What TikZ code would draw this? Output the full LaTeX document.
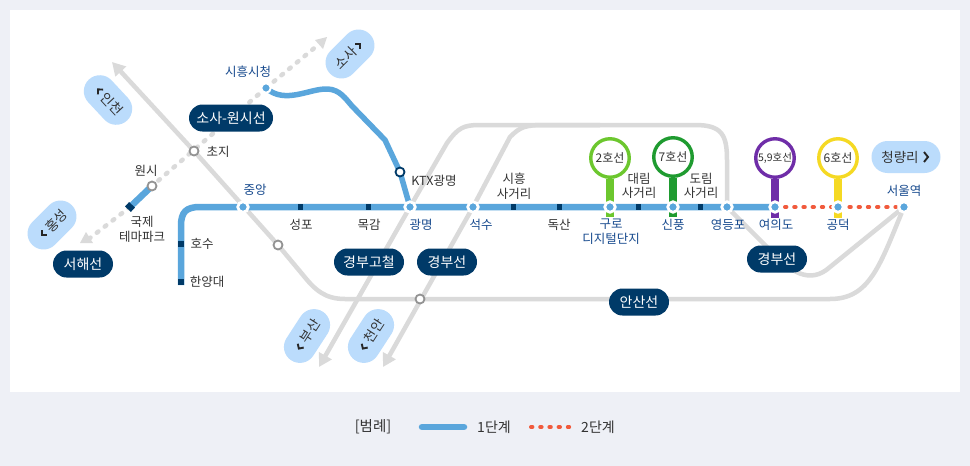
\documentclass[tikz,border=0pt]{standalone}
\usepackage{fontspec}
\setmainfont{Noto Sans CJK KR}
\usetikzlibrary{arrows.meta,shapes.misc,backgrounds}
\definecolor{bgc}{HTML}{EEF0F6}
\definecolor{lineb}{HTML}{5AA6DC}
\definecolor{navy}{HTML}{003A68}
\definecolor{lightb}{HTML}{BBDCFC}
\definecolor{grayl}{HTML}{DADADA}
\definecolor{labb}{HTML}{174A8E}
\definecolor{txt}{HTML}{333333}
\definecolor{redl}{HTML}{F15A3C}
\definecolor{lineii}{HTML}{6CC72E}
\definecolor{linevii}{HTML}{1F9B30}
\definecolor{linelix}{HTML}{6F2DA8}
\definecolor{linevi}{HTML}{F5D923}
\tikzset{
 gline/.style={draw=grayl,line width=4.5pt},
 gtip/.style={-{Triangle[length=13pt,width=14pt,fill=grayl]}},
 gdot/.style={draw=grayl,line width=4.5pt,line cap=round,dash pattern=on 2pt off 8pt},
 bline/.style={draw=lineb,line width=6.5pt},
 rline/.style={draw=redl,line width=4pt,line cap=round,dash pattern=on 1.4pt off 7.8pt},
 pill/.style={rounded rectangle,fill=navy,text=white,minimum height=27pt,inner xsep=0pt,inner ysep=0pt,font=\fontsize{14}{14}\selectfont},
 dest/.style={rounded rectangle,fill=lightb,text=txt,minimum height=32pt,minimum width=56pt,inner xsep=0pt,inner ysep=0pt,font=\fontsize{13.5}{14}\selectfont},
 chev/.style={draw=black!85,line width=1.9pt,line join=miter},
 stn/.style={circle,fill=lineb,draw=white,line width=2.8pt,minimum size=10.5pt,inner sep=0pt},
 ostn/.style={circle,fill=white,draw=gray!85,line width=1.8pt,minimum size=9pt,inner sep=0pt},
 kstn/.style={circle,fill=white,draw=navy,line width=1.8pt,minimum size=9pt,inner sep=0pt},
 tick/.style={rectangle,fill=navy,minimum width=5pt,minimum height=6.5pt,inner sep=0pt},
 vtick/.style={rectangle,fill=navy,minimum width=6.5pt,minimum height=6pt,inner sep=0pt},
 lab/.style={text=txt,align=center,inner sep=0pt,font=\fontsize{12.5}{14}\selectfont},
 slab/.style={text=labb,align=center,inner sep=0pt,font=\fontsize{12.5}{14}\selectfont},
 ring/.style={circle,fill=white,line width=3.4pt,minimum size=38.5pt,inner sep=0pt,text=txt,font=\fontsize{12}{12}\selectfont},
}
\begin{document}
\begin{tikzpicture}[x=1pt,y=-1pt]
\useasboundingbox (0,0) rectangle (970,466);
% named points
\coordinate (incheonEnd) at (112,62);
\coordinate (sosaEnd) at (318,45);
\coordinate (hongEnd) at (90,238);
\coordinate (busanEnd) at (319,367);
\coordinate (cheonEnd) at (383,367);
\coordinate (legA) at (422,427);
\coordinate (legB) at (464,427);
\coordinate (legC) at (531,427);
\coordinate (legD) at (570,427);
\coordinate (e2) at (610,217);\coordinate (e7) at (673,217);\coordinate (e59) at (775,218);\coordinate (e6) at (838,218);
% stations
\node[stn] (jungang) at (243,207) {};
\node[stn] (gwangmyeong) at (410,207) {};
\node[stn] (seoksu) at (473,207) {};
\node[stn] (guro) at (610,207) {};
\node[stn] (sinpung) at (673,207) {};
\node[stn] (yeongdeungpo) at (727,207) {};
\node[stn] (yeouido) at (775,207) {};
\node[stn] (gongdeok) at (838,207) {};
\node[stn] (seoul) at (904,207) {};
\node[stn,minimum size=9.5pt,line width=2pt] (siheung) at (266,88) {};
\node[vtick] (hanyang) at (181,282) {};
\node[vtick] (hosu) at (181,244) {};
\node[tick] (seongpo) at (300,207) {};
\node[tick] (mokgam) at (368,207) {};
\node[tick] (sisa) at (513,207) {};
\node[tick] (doksan) at (559,207) {};
\node[tick] (daerim) at (638,207) {};
\node[tick] (dorim) at (700,207) {};
\node[ostn] (choji) at (194,151) {};
\node[ostn] (wonsi) at (152,186) {};
\node[ostn] (gmid) at (278,245) {};
\node[ostn] (amid) at (420,299) {};
\node[kstn] (ktx) at (400,172) {};
\node[rectangle,rotate=-43,fill=navy,minimum width=8pt,minimum height=6pt,inner sep=0pt] (gukje) at (130,207) {};
% transfer rings
\node[ring,draw=lineii] (r2) at (610,158) {2호선};
\node[ring,draw=linevii] (r7) at (673,157) {7호선};
\node[ring,draw=linelix,font=\fontsize{10.5}{12}\selectfont] (r59) at (775,158) {5,9호선};
\node[ring,draw=linevi] (r6) at (838,158) {6호선};
% connectors, behind the nodes
\begin{pgfonlayer}{background}
\fill[bgc] (0,0) rectangle (970,466);
\fill[white] (10,10) rectangle (960,392);
\path[gline,gtip] (gmid.center) -- (choji.center) -- (incheonEnd);
\path[gline] (gmid.center) -- (303,275) .. controls (315,290) and (325,299) .. (345,299) -- (830,299) .. controls (870,299) and (880,265) .. (seoul.center);
\path[gline,gtip] (gwangmyeong.center) -- (busanEnd);
\path[gline] (gwangmyeong.center) -- (447,143) .. controls (458,128) and (463,125) .. (480,125) -- (695,125) .. controls (722,125) and (727,135) .. (727,160) -- (yeongdeungpo.center);
\path[gline,gtip] (seoksu.center) -- (cheonEnd);
\path[gline] (seoksu.center) -- (510,137) .. controls (520,127) and (525,125) .. (545,125) -- (600,125);
\path[gline] (yeongdeungpo.center) -- (770,250) .. controls (790,272) and (810,285) .. (830,267) -- (seoul.center);
\draw[gdot] (siheung.center) -- (sosaEnd);
\draw[gdot] (siheung.center) -- (wonsi.center);
\draw[gdot] (gukje.center) -- (hongEnd);
\fill[grayl] (327,37) -- (315,40) -- (323,49) -- cycle;
\fill[grayl] (80,243) -- (93,243) -- (86,232) -- cycle;
\draw[bline] (hanyang.center) ++(0,3) -- (181,226) .. controls (181,212) and (186,207) .. (200,207) -- (yeouido.center);
\draw[bline] (wonsi.center) -- (gukje.center);
\draw[bline,line width=5.5pt] (siheung.center) .. controls (285,105) and (310,88) .. (328,89) .. controls (340,90) and (345,98) .. (352,106) -- (385,140) -- (ktx.center) -- (gwangmyeong.center);
\draw[rline] (yeouido.center) ++(10,0) -- (896,207);
\draw[line width=8pt,draw=lineii] (r2.south) -- (e2);
\draw[line width=8pt,draw=linevii] (r7.south) -- (e7);
\draw[line width=8pt,draw=linelix] (r59.south) -- (e59);
\draw[line width=8pt,draw=linevi] (r6.south) -- (e6);
\end{pgfonlayer}
% pills
\node[pill,minimum width=84pt] (pSosa) at (231,118) {소사-원시선};
\node[pill,minimum width=60pt] (pSeohae) at (83,264) {서해선};
\node[pill,minimum width=70pt] (pGyeonggo) at (369,262) {경부고철};
\node[pill,minimum width=60pt] (pGyeongbu) at (447,262) {경부선};
\node[pill,minimum width=60pt] (pAnsan) at (639,302) {안산선};
\node[pill,minimum width=60pt] (pGyeongbu2) at (777,259) {경부선};
% destinations
\node[dest,minimum width=69pt] (dCheong) at (906,157) {청량리\hspace*{12pt}};
\draw[chev] (924,152) -- (928,157) -- (924,162);
\node[dest,rotate=-47] (dIncheon) at (108,100) {\hspace*{12pt}인천};
\draw[chev,shift={(dIncheon.center)},rotate=-47] (-11,-3.5) -- (-14.5,0) -- (-11,3.5);
\node[dest,rotate=45] (dSosa) at (350,54) {소사\hspace*{12pt}};
\draw[chev,shift={(dSosa.center)},rotate=45] (11,-3.5) -- (14.5,0) -- (11,3.5);
\node[dest,rotate=45] (dHong) at (52,225) {\hspace*{12pt}홍성};
\draw[chev,shift={(dHong.center)},rotate=45] (-11,-3.5) -- (-14.5,0) -- (-11,3.5);
\node[dest,rotate=57,minimum width=58pt] (dBusan) at (307,336) {\hspace*{12pt}부산};
\draw[chev,shift={(dBusan.center)},rotate=57] (-11.5,-3.5) -- (-15,0) -- (-11.5,3.5);
\node[dest,rotate=57,minimum width=58pt] (dCheon) at (371,336) {\hspace*{12pt}천안};
\draw[chev,shift={(dCheon.center)},rotate=57] (-11.5,-3.5) -- (-15,0) -- (-11.5,3.5);
% labels
\node[slab] (l1) at (248,72) {시흥시청};
\node[lab] (l2) at (218,152) {초지};
\node[lab] (l3) at (146,171) {원시};
\node[lab,font=\fontsize{12.5}{15}\selectfont] (l4) at (142,229) {국제\\테마파크};
\node[slab] (l5) at (255,190) {중앙};
\node[lab] (l6) at (202,244) {호수};
\node[lab] (l7) at (207,282) {한양대};
\node[lab] (l8) at (301,225) {성포};
\node[lab] (l9) at (369,225) {목감};
\node[slab] (l10) at (421,225) {광명};
\node[slab] (l11) at (481,225) {석수};
\node[lab] (l12) at (434,181) {KTX광명};
\node[lab,font=\fontsize{12.5}{14.5}\selectfont] (l13) at (514,186) {시흥\\사거리};
\node[lab] (l14) at (559,225) {독산};
\node[slab,font=\fontsize{12.5}{15}\selectfont] (l15) at (611,232) {구로\\디지털단지};
\node[lab,font=\fontsize{12.5}{14.5}\selectfont] (l16) at (639,186) {대림\\사거리};
\node[slab] (l17) at (673,225) {신풍};
\node[lab,font=\fontsize{12.5}{14.5}\selectfont] (l18) at (701,186) {도림\\사거리};
\node[slab] (l19) at (728,225) {영등포};
\node[slab] (l20) at (776,225) {여의도};
\node[slab] (l21) at (838,225) {공덕};
\node[slab] (l22) at (904,191) {서울역};
% legend
\node[lab,font=\fontsize{14.5}{15}\selectfont] (legT) at (373,427) {[범례]};
\draw[draw=lineb,line width=6.5pt,line cap=round] (legA) -- (legB);
\node[lab,font=\fontsize{14}{15}\selectfont] (leg1) at (494,427) {1단계};
\draw[rline] (legC) -- (legD);
\node[lab,font=\fontsize{14}{15}\selectfont] (leg2) at (598,427) {2단계};
\end{tikzpicture}
\end{document}
